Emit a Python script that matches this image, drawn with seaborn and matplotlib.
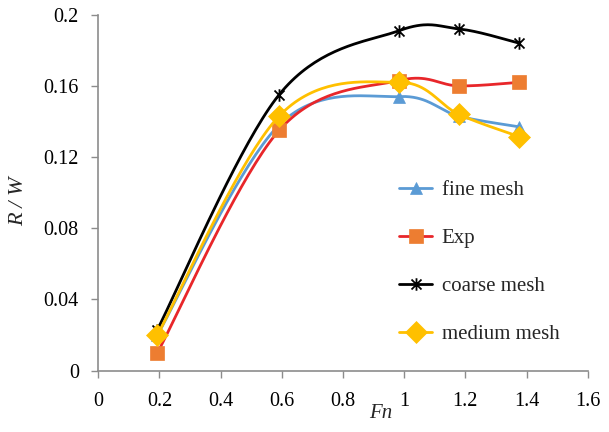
import numpy as np
import pandas as pd
import matplotlib
matplotlib.use("Agg")
import matplotlib.pyplot as plt
from matplotlib.path import Path
from matplotlib.lines import Line2D
import seaborn as sns

# Froude numbers and resistance ratios
fn = [0.193, 0.591, 0.983, 1.179, 1.376]
fine_mesh = [0.020, 0.138, 0.154, 0.143, 0.137]
exp_data = [0.010, 0.135, 0.163, 0.160, 0.162]
coarse_mesh = [0.023, 0.155, 0.191, 0.192, 0.184]
medium_mesh = [0.020, 0.143, 0.162, 0.144, 0.1315]

x_ticks = [0, 0.2, 0.4, 0.6, 0.8, 1.0, 1.2, 1.4, 1.6]
x_tick_labels = ["0", "0.2", "0.4", "0.6", "0.8", "1", "1.2", "1.4", "1.6"]
y_ticks = [0, 0.04, 0.08, 0.12, 0.16, 0.2]
y_tick_labels = ["0", "0.04", "0.08", "0.12", "0.16", "0.2"]

sns.set_theme(style="white")
plt.rcParams["font.family"] = ["Liberation Serif", "DejaVu Serif"]


def smooth(xv, yv, n=40):
    """Cardinal (Catmull-Rom style) Bezier smoothing through the points."""
    p = np.column_stack([xv, yv]).astype(float)
    out = []
    for i in range(len(p) - 1):
        p0 = p[i - 1] if i > 0 else p[i]
        p1, p2 = p[i], p[i + 1]
        p3 = p[i + 2] if i + 2 < len(p) else p[i + 1]
        c1 = p1 + (p2 - p0) / 6.0
        c2 = p2 - (p3 - p1) / 6.0
        t = np.linspace(0, 1, n)[:, None]
        seg = ((1 - t) ** 3) * p1 + 3 * ((1 - t) ** 2) * t * c1 + 3 * (1 - t) * t ** 2 * c2 + t ** 3 * p2
        out.append(seg if i == 0 else seg[1:])
    s = np.vstack(out)
    return s[:, 0], s[:, 1]


# asterisk marker: X with a vertical stroke
star_verts = [(-1, -1), (1, 1), (-1, 1), (1, -1), (0, -1.25), (0, 1.25)]
star_codes = [Path.MOVETO, Path.LINETO, Path.MOVETO, Path.LINETO, Path.MOVETO, Path.LINETO]
star_marker = Path(star_verts, star_codes)

series = [
    ("fine mesh", fine_mesh, "#5B9BD5", "#5B9BD5", "^", 9),
    ("Exp", exp_data, "#E8262A", "#ED7D31", "s", 10),
    ("coarse mesh", coarse_mesh, "#000000", "#000000", star_marker, 9),
    ("medium mesh", medium_mesh, "#FFC000", "#FFC000", "D", 11),
]

fig = plt.figure(figsize=(6.09, 4.32), dpi=100)
ax = fig.add_axes([0.1614, 0.1419, 0.8036, 0.8241])

handles = []
for name, vals, lc, mc, mk, ms in series:
    sx, sy = smooth(fn, vals)
    df = pd.DataFrame({"Fn": sx, "RW": sy})
    sns.lineplot(data=df, x="Fn", y="RW", color=lc, linewidth=2.0, sort=False,
                 estimator=None, ax=ax, legend=False)
    is_star = mk is star_marker
    ax.plot(fn, vals, linestyle="none", marker=mk, markersize=ms,
            markeredgecolor=mc, markerfacecolor=("none" if is_star else mc),
            markeredgewidth=(1.3 if is_star else 0.5))
    handles.append(Line2D([0], [0], color=lc, linewidth=2.0, marker=mk,
                          markersize=ms, markerfacecolor=("none" if is_star else mc),
                          markeredgecolor=mc,
                          markeredgewidth=(1.3 if is_star else 0.5)))

ax.set_xlim(0, 1.6)
ax.set_ylim(0, 0.2)
ax.set_xticks(x_ticks)
ax.set_xticklabels(x_tick_labels)
ax.set_yticks(y_ticks)
ax.set_yticklabels(y_tick_labels)
ax.tick_params(axis="both", which="major", direction="out", length=5, width=1,
               color="#8C8C8C", labelsize=14.5, labelcolor="#000000",
               bottom=True, left=True)
ax.tick_params(axis="x", pad=10)
ax.tick_params(axis="y", pad=9)
for side in ("top", "right"):
    ax.spines[side].set_visible(False)
for side in ("left", "bottom"):
    ax.spines[side].set_color("#8C8C8C")
    ax.spines[side].set_linewidth(1.2)
ax.grid(False)

ax.set_xlabel("Fn", fontsize=15, style="italic", labelpad=2)
ax.xaxis.set_label_coords(0.578, -0.12, transform=ax.transAxes)
ax.xaxis.label.set_verticalalignment("center")
ax.set_ylabel("R / W", fontsize=16, style="italic")
ax.yaxis.set_label_coords(-0.162, 0.477, transform=ax.transAxes)
ax.yaxis.label.set_verticalalignment("center")

ax.legend(handles, [s[0] for s in series], loc="upper left",
          bbox_to_anchor=(0.6144, 0.5346), frameon=False, fontsize=15,
          borderpad=0, borderaxespad=0,
          handlelength=1.6, handletextpad=0.45, labelspacing=1.37)

fig.savefig("out.png", dpi=100)
